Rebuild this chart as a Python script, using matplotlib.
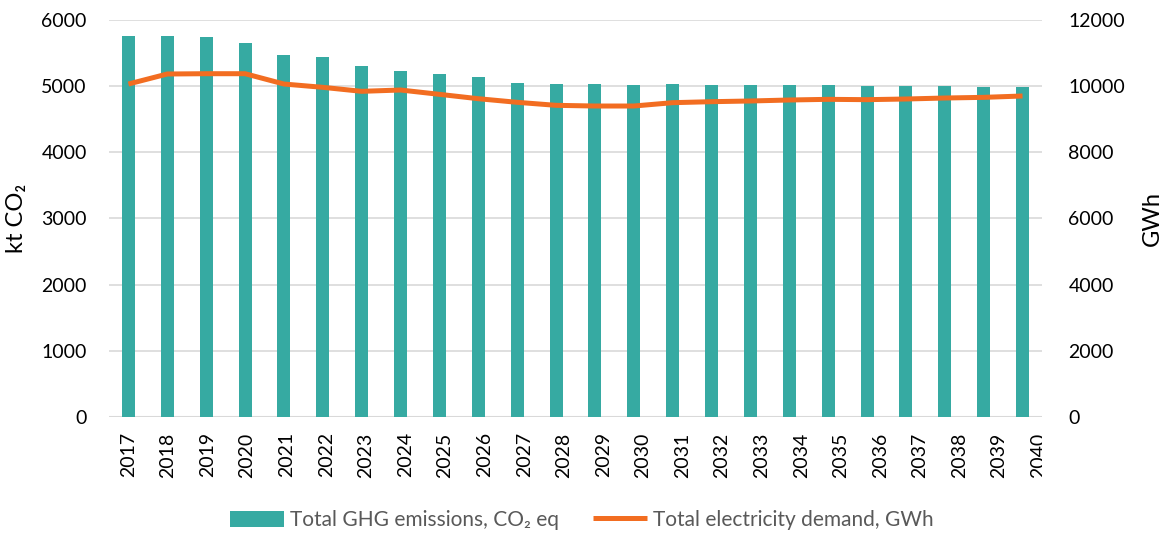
import matplotlib
matplotlib.use("Agg")
import matplotlib.pyplot as plt
from matplotlib.transforms import Bbox, TransformedBbox, ScaledTranslation

# data
years = list(range(2017, 2041))
ghg = [5758, 5758, 5743, 5652, 5471, 5441, 5305, 5229, 5184, 5138, 5048, 5033,
       5033, 5017, 5033, 5017, 5017, 5017, 5017, 5002, 5002, 5002, 4987, 4987]
demand = [10065, 10368, 10377, 10377, 10065, 9965, 9844, 9884, 9753, 9621, 9512, 9421,
          9400, 9400, 9501, 9531, 9552, 9582, 9602, 9592, 9612, 9642, 9662, 9703]

teal = "#36aaa2"
orange = "#f26d21"
grid_col = "#d9d9d9"

plt.rcParams['font.family'] = ['Lato', 'DejaVu Sans']

fig = plt.figure(figsize=(11.73, 5.35), dpi=100)
ax = fig.add_axes([0.0929, 0.2206, 0.7954, 0.742])
ax2 = ax.twinx()

x = list(range(len(years)))
bars = ax.bar(x, ghg, width=0.335, color=teal, zorder=2,
              label="Total GHG emissions, CO₂ eq")
line, = ax2.plot(x, demand, color=orange, lw=3.6, solid_capstyle='butt',
                 label="Total electricity demand, GWh", zorder=3)

ax.set_xlim(-0.5, len(years) - 0.5)
ax.set_ylim(0, 6000)
ax2.set_ylim(0, 12000)
ax.set_yticks(range(0, 6001, 1000))
ax2.set_yticks(range(0, 12001, 2000))

ax.yaxis.grid(True, color=grid_col, lw=1.2, zorder=0)
ax.set_axisbelow(True)
for a in (ax, ax2):
    for s in ("top", "left", "right", "bottom"):
        a.spines[s].set_visible(False)
ax.axhline(0, color=grid_col, lw=1.5, zorder=1)

ax.tick_params(axis='y', length=0, pad=16, labelsize=14, labelcolor='black')
ax2.tick_params(axis='y', length=0, pad=19, labelsize=14, labelcolor='black')
ax.tick_params(axis='x', length=0, pad=11, labelsize=14, labelcolor='black')

ax.set_xticks(x)
ax.set_xticklabels([str(y) for y in years], rotation=90, va='top', ha='center')

# the labels drift a little to the right in the original; last one is cut at the plot edge
clip = TransformedBbox(Bbox([[0, -1], [1, 1]]), ax.transAxes)
for i, lab in enumerate(ax.get_xticklabels()):
    lab.set_transform(lab.get_transform() + ScaledTranslation(i * 0.007, 0, fig.dpi_scale_trans))
    if i == len(years) - 1:
        lab.set_clip_on(True)
        lab.set_clip_box(clip)

ax.set_ylabel("kt CO₂", fontsize=17, labelpad=10)
ax2.set_ylabel("GWh", fontsize=17, labelpad=12)

fig.legend(handles=[bars, line], loc='center', bbox_to_anchor=(0.496, 0.028),
           ncol=2, frameon=False, fontsize=15, labelcolor='#595959',
           handlelength=2.6, handletextpad=0.3, columnspacing=1.6, handleheight=0.8)

fig.savefig("out.png", dpi=100)
